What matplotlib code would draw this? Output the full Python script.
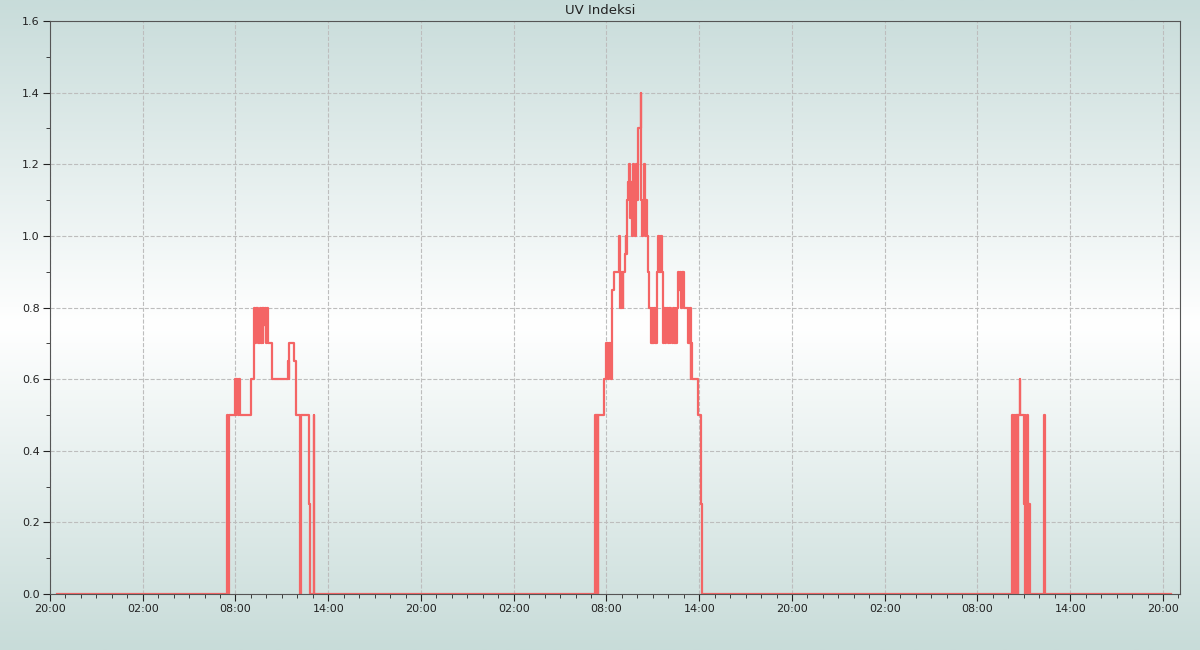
import numpy as np
import pandas as pd
import matplotlib
matplotlib.use("Agg")
import matplotlib.pyplot as plt
import matplotlib.dates as mdates
from matplotlib.colors import LinearSegmentedColormap

# hours after the first 20:00, and the UV value that starts at that moment
day1_hours = [0.47, 11.47, 11.50, 11.58, 11.97, 12.02, 12.06, 12.10, 12.14, 12.18, 12.22, 12.26, 12.31,
              12.98, 13.18, 13.22, 13.27, 13.31, 13.36, 13.40, 13.45, 13.60, 13.65, 13.70, 13.75,
              13.80, 13.86, 13.92, 13.98, 14.04, 14.12, 14.33, 14.38, 15.42, 15.44, 15.46, 15.49,
              15.80, 15.90, 16.16, 16.19, 16.21, 16.73, 16.82, 17.07, 17.10]
day1_uv = [0, 0.5, 0, 0.5, 0.6, 0.5, 0.6, 0.55, 0.6, 0.5, 0.6, 0.55, 0.5,
           0.6, 0.7, 0.8, 0.7, 0.8, 0.75, 0.8, 0.7, 0.8, 0.7, 0.8, 0.7,
           0.8, 0.75, 0.8, 0.7, 0.8, 0.7, 0.65, 0.6, 0.65, 0.6, 0.65, 0.7,
           0.65, 0.5, 0.25, 0, 0.5, 0.25, 0, 0.5, 0]

day2_hours = [35.26, 35.29, 35.32, 35.36, 35.40, 35.44, 35.48, 35.84, 35.97, 36.02, 36.06, 36.12,
              36.15, 36.22, 36.26, 36.32, 36.38, 36.47, 36.79, 36.85, 36.87, 36.92, 36.96, 37.00,
              37.05, 37.09, 37.20, 37.25, 37.29, 37.35, 37.41, 37.48, 37.54, 37.59, 37.63, 37.69,
              37.76, 37.82, 37.89, 37.95, 38.05, 38.21, 38.25, 38.32, 38.36, 38.43, 38.49, 38.56,
              38.60, 38.71, 38.75, 38.88, 38.92, 38.96, 39.00, 39.04, 39.09, 39.13, 39.18, 39.22,
              39.25, 39.28, 39.35, 39.40, 39.44, 39.49, 39.53, 39.57, 39.63, 39.68, 39.72, 39.78,
              39.82, 39.88, 39.92, 39.98, 40.03, 40.10, 40.14, 40.20, 40.25, 40.30, 40.36, 40.42,
              40.46, 40.55, 40.65, 40.70, 40.74, 40.80, 40.86, 40.92, 40.98, 41.03, 41.29, 41.32,
              41.36, 41.40, 41.45, 41.48, 41.55, 41.94, 42.09, 42.20]
day2_uv = [0.5, 0, 0.5, 0, 0.5, 0, 0.5, 0.6, 0.7, 0.65, 0.7, 0.6,
           0.7, 0.65, 0.7, 0.6, 0.85, 0.9, 1.0, 0.9, 0.8, 0.9, 0.8, 0.9,
           0.8, 0.9, 0.95, 1.0, 0.95, 1.1, 1.15, 1.2, 1.05, 1.15, 1.0, 1.2,
           1.1, 1.0, 1.2, 1.1, 1.3, 1.4, 1.1, 1.0, 1.1, 1.2, 1.0, 1.1,
           1.0, 0.9, 0.8, 0.7, 0.8, 0.7, 0.8, 0.7, 0.8, 0.7, 0.8, 0.7,
           0.8, 0.9, 1.0, 0.9, 1.0, 0.9, 1.0, 0.9, 0.8, 0.7, 0.8, 0.7,
           0.8, 0.75, 0.8, 0.7, 0.8, 0.7, 0.8, 0.75, 0.7, 0.8, 0.7, 0.8,
           0.7, 0.8, 0.9, 0.85, 0.9, 0.8, 0.9, 0.85, 0.9, 0.8, 0.7, 0.8,
           0.7, 0.8, 0.6, 0.7, 0.6, 0.5, 0.25, 0]

day3_hours = [62.23, 62.26, 62.30, 62.33, 62.37, 62.40, 62.45, 62.48, 62.53, 62.56, 62.62, 62.65,
              62.73, 62.76, 63.03, 63.05, 63.07, 63.10, 63.13, 63.18, 63.20, 63.23, 63.27, 63.32,
              63.35, 63.39, 64.32, 64.36, 72.50]
day3_uv = [0.25, 0.5, 0, 0.5, 0.25, 0.5, 0, 0.5, 0, 0.5, 0, 0.5,
           0.6, 0.5, 0.25, 0.5, 0.25, 0, 0.25, 0, 0.25, 0.5, 0.25, 0,
           0.25, 0, 0.5, 0, 0]

start = pd.Timestamp("2023-06-01 20:00")
hours = np.array(day1_hours + day2_hours + day3_hours)
uv = np.array(day1_uv + day2_uv + day3_uv)
times = start + pd.to_timedelta(hours, unit="h")

fig = plt.figure(figsize=(12, 6.5), dpi=100)

# background gradient: grey-green at top and bottom, white in the middle
bg = fig.add_axes([0, 0, 1, 1], zorder=-10)
cmap = LinearSegmentedColormap.from_list("bg", ["#c8dcda", "#ffffff", "#c8dcd9"])
bg.imshow(np.linspace(0, 1, 256).reshape(-1, 1), aspect="auto", cmap=cmap,
          extent=[0, 1, 0, 1])
bg.axis("off")

ax = fig.add_axes([50 / 1200, 1 - 594 / 650, 1130 / 1200, 573 / 650])
ax.set_facecolor("none")
ax.step(times, uv, where="post", color="#f46565", lw=1.6)

ax.set_xlim(start, start + pd.Timedelta(hours=73.1))
ax.set_ylim(0, 1.6)
fig.text(0.5, 1 - 11 / 650, "UV Indeksi", ha="center", va="center",
         fontsize=9.5, color="#222222")

ax.xaxis.set_major_locator(mdates.HourLocator(byhour=[2, 8, 14, 20]))
ax.xaxis.set_minor_locator(mdates.HourLocator())
ax.xaxis.set_major_formatter(mdates.DateFormatter("%H:%M"))
ax.set_yticks(np.arange(0, 1.61, 0.2))
ax.set_yticks(np.arange(0.1, 1.6, 0.2), minor=True)
ax.yaxis.set_major_formatter(matplotlib.ticker.FormatStrFormatter("%.1f"))

ax.grid(True, which="major", ls="--", color="#bdbdbd", lw=0.8)
ax.tick_params(which="major", length=5, labelsize=8, pad=2.5, colors="#222222")
ax.tick_params(which="minor", length=3, colors="#222222")
for s in ax.spines.values():
    s.set_color("#555555")

fig.savefig("out.png", dpi=100)
